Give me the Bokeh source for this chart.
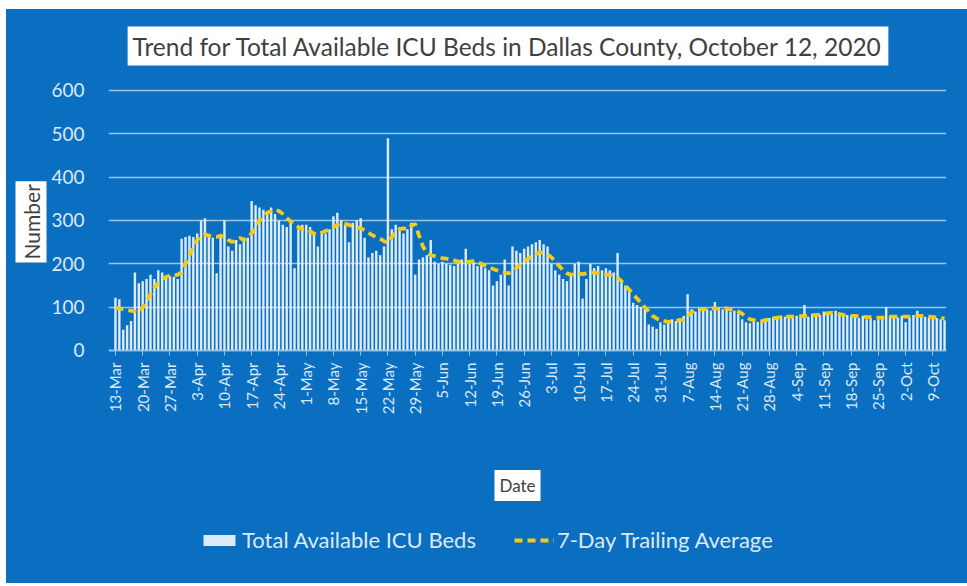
import math
import pandas as pd
from bokeh.plotting import figure
from bokeh.models import ColumnDataSource, FixedTicker, Title, Label, Legend, LegendItem, Range1d
from bokeh.embed import file_html
from bokeh.resources import INLINE

start_date = "2020-03-13"
end_date = "2020-10-12"

beds = [
    122, 118, 48, 58, 68, 180, 155,
    160, 165, 175, 165, 185, 180, 170,
    172, 170, 165, 258, 262, 265, 262,
    270, 300, 305, 265, 260, 178, 262,
    300, 240, 230, 255, 245, 255, 260,
    345, 335, 330, 325, 320, 330, 315,
    300, 290, 285, 300, 190, 280, 290,
    290, 285, 270, 240, 275, 270, 280,
    310, 318, 300, 290, 250, 295, 300,
    305, 260, 215, 225, 230, 220, 240,
    490, 280, 290, 285, 270, 280, 295,
    175, 210, 215, 220, 255, 205, 200,
    205, 200, 198, 195, 200, 210, 235,
    200, 205, 195, 200, 190, 185, 150,
    160, 175, 210, 150, 240, 230, 225,
    235, 240, 245, 250, 255, 245, 240,
    200, 185, 175, 165, 160, 175, 200,
    205, 120, 165, 200, 190, 195, 185,
    190, 185, 180, 225, 160, 150, 140,
    110, 105, 100, 95, 60, 55, 50,
    65, 60, 70, 72, 68, 75, 80,
    130, 95, 90, 98, 100, 95, 92,
    112, 100, 95, 98, 90, 92, 85,
    72, 65, 63, 68, 66, 70, 72,
    75, 78, 76, 80, 78, 75, 82,
    80, 82, 105, 78, 85, 80, 82,
    90, 88, 85, 92, 86, 80, 82,
    80, 78, 75, 80, 72, 75, 70,
    72, 75, 100, 80, 78, 76, 80,
    65, 78, 82, 92, 80, 78, 76,
    80, 75, 72, 70,
]

trailing_avg = [
    97, 97, 95, 93, 92, 90, 88,
    100, 115, 130, 145, 155, 165, 170,
    172, 172, 175, 180, 200, 220, 240,
    255, 265, 268, 265, 262, 262, 265,
    262, 255, 250, 255, 260, 255, 262,
    270, 285, 300, 310, 318, 322, 325,
    322, 315, 305, 298, 290, 285, 280,
    280, 275, 270, 268, 272, 276, 280,
    285, 290, 293, 292, 290, 287, 285,
    282, 278, 272, 266, 262, 258, 252,
    248, 262, 275, 280, 282, 280, 288,
    292, 265, 240, 225, 220, 218, 215,
    213, 212, 210, 208, 205, 205, 204,
    205, 206, 204, 200, 196, 192, 188,
    185, 182, 180, 178, 182, 190, 198,
    205, 212, 218, 222, 226, 226, 222,
    215, 205, 195, 185, 178, 175, 175,
    177, 176, 178, 180, 180, 178, 175,
    175, 175, 172, 168, 160, 150, 140,
    130, 120, 110, 100, 90, 80, 74,
    70, 68, 66, 67, 68, 70, 72,
    80, 88, 93, 95, 96, 95, 97,
    97, 96, 98, 97, 95, 94, 90,
    85, 78, 72, 70, 68, 68, 70,
    72, 74, 76, 77, 78, 78, 78,
    78, 79, 80, 80, 81, 82, 82,
    84, 86, 87, 86, 84, 82, 81,
    80, 80, 79, 78, 77, 77, 76,
    76, 76, 77, 78, 78, 78, 78,
    78, 78, 79, 80, 80, 79, 78,
    77, 76, 75, 74,
]

y_ticks = [0, 100, 200, 300, 400, 500, 600]

dates = pd.date_range(start_date, end_date, freq="D")
days = list(range(len(dates)))
tick_days = days[::7]
tick_labels = {d: f"{dates[d].day}-{dates[d].strftime('%b')}" for d in tick_days}

BG = "#0A6EC1"
GRID = "#9CC3E8"
LIGHT = "#DCE9F7"
DARK = "#404040"
FONT = "Lato"

src = ColumnDataSource(dict(day=days, beds=beds, avg=trailing_avg))

# frame spans the full height of the figure; value 0 sits 233px above the bottom edge
p = figure(width=961, height=574, output_backend="svg", toolbar_location=None,
           x_range=Range1d(-1.785, len(days) - 0.5), y_range=Range1d(-537.7, 786.9),
           min_border_left=102, min_border_right=21, min_border_top=0, min_border_bottom=0,
           margin=(9, 0, 0, 6))
p.styles = {"background-color": BG}
p.background_fill_color = BG
p.border_fill_color = None
p.outline_line_color = None

bars = p.vbar(x="day", top="beds", width=0.62, source=src, fill_color="#EEF5FC",
              line_color=None, fill_alpha=0.92)
line = p.line(x="day", y="avg", source=src, line_color="#F4CB16", line_width=3.8,
              line_dash="8 5")

p.xgrid.grid_line_color = None
p.ygrid.grid_line_color = GRID
p.ygrid.grid_line_width = 1.6
p.ygrid.ticker = FixedTicker(ticks=y_ticks)

p.yaxis.ticker = FixedTicker(ticks=y_ticks)
p.yaxis.axis_line_color = None
p.yaxis.major_tick_line_color = None
p.yaxis.minor_tick_line_color = None
p.yaxis.major_label_text_color = LIGHT
p.yaxis.major_label_text_font = FONT
p.yaxis.major_label_text_font_size = "19px"
p.yaxis.major_label_standoff = 18

p.xaxis.fixed_location = 0
p.xaxis.ticker = FixedTicker(ticks=tick_days)
p.xaxis.major_label_overrides = tick_labels
p.xaxis.major_label_orientation = math.pi / 2
p.xaxis.axis_line_color = GRID
p.xaxis.axis_line_width = 1.5
p.xaxis.major_tick_line_color = GRID
p.xaxis.major_tick_in = 0
p.xaxis.major_tick_out = 5
p.xaxis.minor_tick_line_color = None
p.xaxis.major_label_text_color = LIGHT
p.xaxis.major_label_text_font = FONT
p.xaxis.major_label_text_font_size = "15px"
p.xaxis.major_label_standoff = 7

ylab = Title(text="Number", align="left", offset=321, standoff=4,
             text_font=FONT, text_font_size="21px", text_font_style="normal",
             text_color=DARK, background_fill_color="white", padding=3)
p.add_layout(ylab, "left")

title = Label(x=399.5, y=537.5, x_units="screen", y_units="screen",
              text="Trend for Total Available ICU Beds in Dallas County, October 12, 2020",
              text_align="center", text_baseline="middle", text_font=FONT,
              text_font_size="24.5px", text_color=DARK,
              background_fill_color="white", padding=5)
p.add_layout(title)

xlab = Label(x=409, y=98, x_units="screen", y_units="screen", text="Date",
             text_align="center", text_baseline="middle",
             text_font=FONT, text_font_size="17px", text_color=DARK,
             background_fill_color="white", padding=5)
p.add_layout(xlab)

legend = Legend(items=[LegendItem(label="Total Available ICU Beds", renderers=[bars]),
                       LegendItem(label="7-Day Trailing Average", renderers=[line])],
                location=(91, 30), orientation="horizontal", margin=0, padding=0,
                background_fill_alpha=0, border_line_color=None,
                label_text_color=LIGHT, label_text_font=FONT, label_text_font_size="22px",
                glyph_width=40, glyph_height=14, spacing=38, label_standoff=3)
p.add_layout(legend, "center")

open("out.html", "w").write(file_html(p, INLINE))
